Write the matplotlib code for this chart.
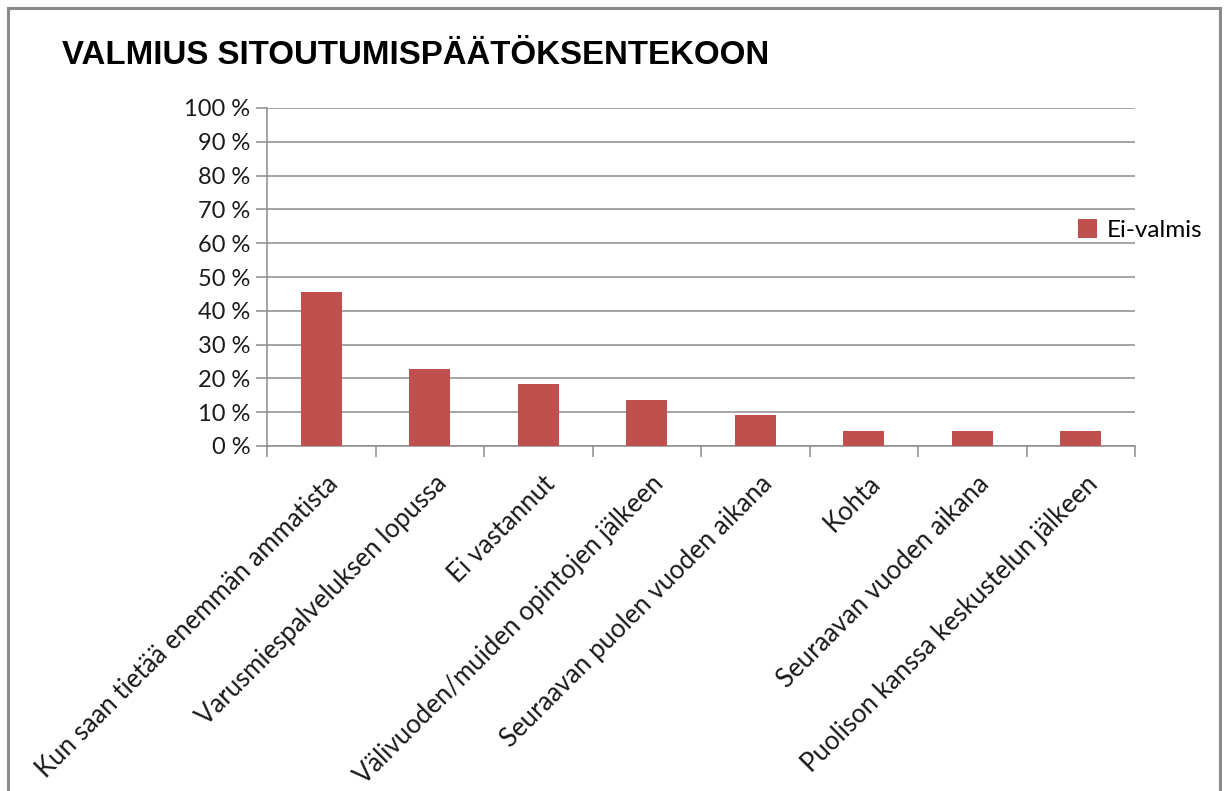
import matplotlib
matplotlib.use("Agg")
import matplotlib.pyplot as plt
import matplotlib.transforms as mtransforms
from matplotlib.patches import Rectangle
from matplotlib.ticker import FixedLocator

# data
categories = [
    "Kun saan tietää enemmän ammatista",
    "Varusmiespalveluksen lopussa",
    "Ei vastannut",
    "Välivuoden/muiden opintojen jälkeen",
    "Seuraavan puolen vuoden aikana",
    "Kohta",
    "Seuraavan vuoden aikana",
    "Puolison kanssa keskustelun jälkeen",
]
ei_valmis = [45.5, 22.7, 18.2, 13.6, 9.1, 4.5, 4.5, 4.5]
yticks = list(range(0, 101, 10))
ytick_labels = [f"{v} %" for v in yticks]

W, H = 1229, 791
fig = plt.figure(figsize=(W / 100, H / 100), dpi=100)
ax = fig.add_axes([267 / W, 1 - 446 / H, (1135 - 267) / W, (446 - 108) / H])

label_font = "Lato"
grey = "#8c8c8c"

x = list(range(len(categories)))
bars = ax.bar(x, ei_valmis, width=0.38, color="#C0504D", label="Ei-valmis", zorder=3)

ax.set_xlim(-0.5, len(categories) - 0.5)
ax.set_ylim(0, 100)
ax.set_yticks(yticks)
ax.set_yticklabels(ytick_labels, fontsize=17, family=label_font, color="#1a1a1a")
ax.yaxis.grid(True, color=grey, linewidth=1.1, zorder=0)

ax.set_xticks(x)
ax.set_xticklabels(categories, rotation=45, ha="right", va="top",
                   rotation_mode="anchor", fontsize=18.5, family=label_font,
                   color="#1a1a1a")
ax.xaxis.set_minor_locator(FixedLocator([i - 0.5 for i in range(len(categories) + 1)]))
ax.tick_params(axis="x", which="major", length=0, pad=18)
ax.tick_params(axis="x", which="minor", length=8, color=grey, width=1.1)
ax.tick_params(axis="y", length=8, color=grey, width=1.1, pad=4)
offset = mtransforms.ScaledTranslation(4 / 100, 0, fig.dpi_scale_trans)
for lbl in ax.get_xticklabels():
    lbl.set_transform(lbl.get_transform() + offset)

for side in ["top", "right"]:
    ax.spines[side].set_visible(False)
for side in ["left", "bottom"]:
    ax.spines[side].set_color(grey)
    ax.spines[side].set_linewidth(1.1)

fig.legend(handles=[bars], labels=["Ei-valmis"], loc="center left",
           bbox_to_anchor=(1068 / W, 1 - 230 / H), frameon=False,
           prop={"family": label_font, "size": 17.5}, handlelength=0.8,
           handleheight=0.8, handletextpad=0.4, borderaxespad=0)

fig.text(62 / W, 1 - 55 / H, "VALMIUS SITOUTUMISPÄÄTÖKSENTEKOON",
         family="Liberation Sans", weight="bold", fontsize=23.8,
         ha="left", va="center", color="black")

fig.patches.append(Rectangle((8 / W, -0.05), (1220 - 8) / W, 1.05 - 8 / H,
                             transform=fig.transFigure, fill=False,
                             edgecolor="#8a8a8a", linewidth=2.2))

fig.savefig("out.png", dpi=100)
